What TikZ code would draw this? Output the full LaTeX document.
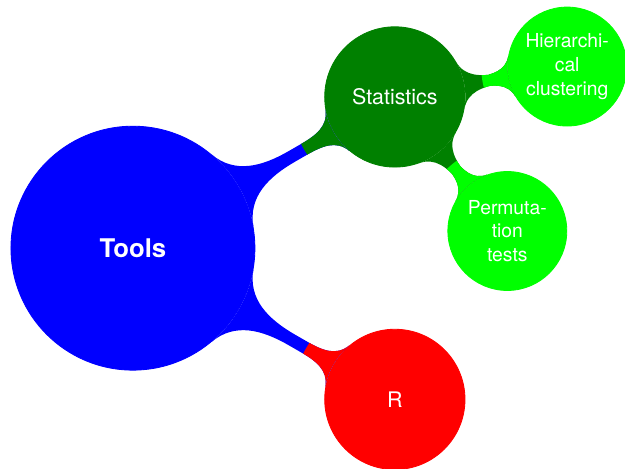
\documentclass[tikz,border=0pt]{standalone}
\usepackage{fontspec}
\setmainfont{TeX Gyre Heros}
\usetikzlibrary{mindmap}

% Verbindungsbalken: erst Farbe der Quelle, dann Farbe des Ziels nahe am Ziel
\newcommand{\linkbar}[5]{%
  \begin{scope}[concept color=#3]
    \path (#1) to[circle connection bar] (#2);
  \end{scope}
  \begin{scope}[concept color=#4]
    \clip (#2) circle (#5);
    \path (#1) to[circle connection bar] (#2);
  \end{scope}}

\tikzset{
  rootconcept/.style={concept, concept color=blue, text=white, minimum size=4cm,
    text width=3cm, align=center, font=\large\bfseries},
  levelone/.style={concept, text=white, minimum size=2.3cm,
    text width=1.9cm, align=center, font=\normalsize},
  leveltwo/.style={concept, concept color=green, text=white, minimum size=1.95cm,
    text width=1.4cm, inner sep=1pt, align=center, font=\small},
}

\begin{document}
\begin{tikzpicture}
  \useasboundingbox (-2.18,-3.62) rectangle (8.07,4.07);
  % Knoten
  \node[rootconcept] (tools) at (0,0) {Tools};
  \node[levelone, concept color=green!50!black] (stats) at (30:4.96) {Statistics};
  \node[levelone, concept color=red] (rlang) at (-30:4.96) {R};
  \node[leveltwo] (hclust) at ([shift={(10:2.87)}]stats) {Hierarchi-\\cal\\clustering};
  \node[leveltwo] (permtest) at ([shift={(-50:2.87)}]stats) {Permuta-\\tion\\tests};

  % Verbindungen
  \linkbar{tools}{stats}{blue}{green!50!black}{1.72}
  \linkbar{tools}{rlang}{blue}{red}{1.68}
  \linkbar{stats}{hclust}{green!50!black}{green}{1.41}
  \linkbar{stats}{permtest}{green!50!black}{green}{1.42}
\end{tikzpicture}
\end{document}
